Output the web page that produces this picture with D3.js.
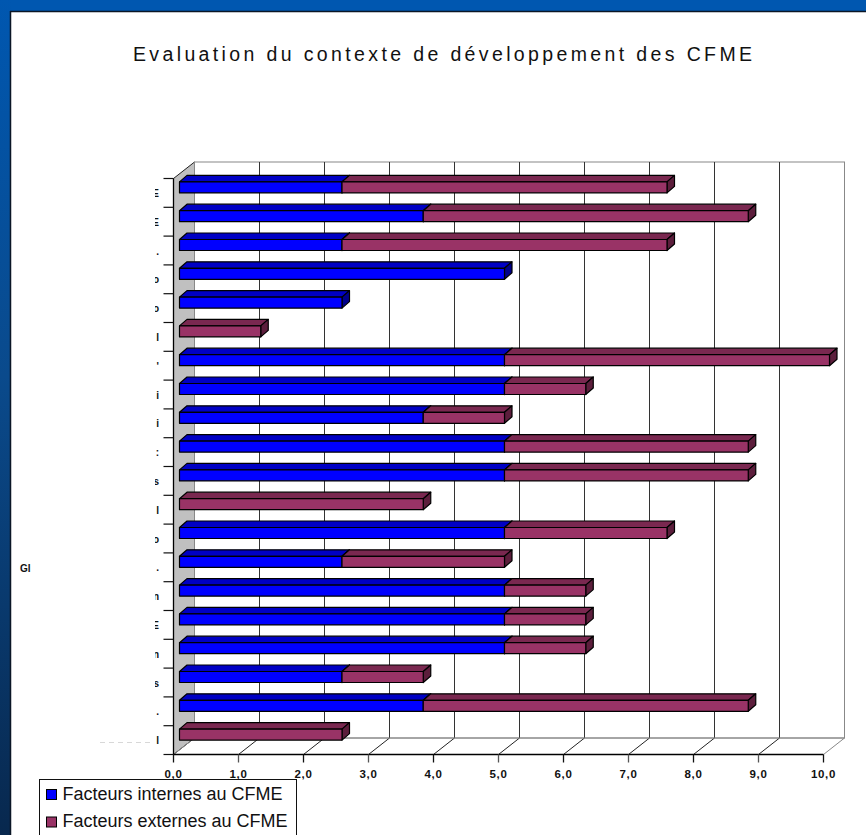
<!DOCTYPE html>
<html>
<head>
<meta charset="utf-8">
<script src="https://cdn.jsdelivr.net/npm/d3@7/dist/d3.min.js"></script>
<style>
  html, body { margin: 0; padding: 0; background: #0055aa; }
  svg { display: block; }
</style>
</head>
<body>
<svg id="chart" width="866" height="835"></svg>
<script>
// ---- Data ----
const categories = ["E","E",".","o","o","l","'","i","i",":","s","l","o",".","n","E","n","s",".","l"];
const internes = [2.5, 3.75, 2.5, 5.0, 2.5, 0, 5.0, 5.0, 3.75, 5.0, 5.0, 0, 5.0, 2.5, 5.0, 5.0, 5.0, 2.5, 3.75, 0];
const externes = [5.0, 5.0, 5.0, 0, 0, 1.25, 5.0, 1.25, 1.25, 3.75, 3.75, 3.75, 2.5, 2.5, 1.25, 1.25, 1.25, 1.25, 5.0, 2.5];
const seriesNames = ["Facteurs internes au CFME", "Facteurs externes au CFME"];
const xTicks = [0,1,2,3,4,5,6,7,8,9,10];
const titleText = "Evaluation du contexte de développement des CFME";

// ---- Layout ----
const svg = d3.select("#chart");
const W = 866, H = 835;

// background
const defs = svg.append("defs");
const lg = defs.append("linearGradient").attr("id","bgl").attr("x1",0).attr("y1",0).attr("x2",0).attr("y2",1);
lg.append("stop").attr("offset","0%").attr("stop-color","#0057b0");
lg.append("stop").attr("offset","45%").attr("stop-color","#0a4a8c");
lg.append("stop").attr("offset","100%").attr("stop-color","#08284e");
defs.append("clipPath").attr("id","lblclip").append("rect")
  .attr("x",155).attr("y",150).attr("width",12).attr("height",620);
svg.append("rect").attr("width",W).attr("height",H).attr("fill","#0057b0");
svg.append("rect").attr("x",0).attr("y",0).attr("width",11).attr("height",H).attr("fill","url(#bgl)");
// panel
svg.append("rect").attr("x",10).attr("y",11).attr("width",W-10).attr("height",H-11).attr("fill","#ffffff");
svg.append("line").attr("x1",10).attr("x2",W).attr("y1",11.5).attr("y2",11.5).attr("stroke","#0b1626").attr("stroke-width",1.5);
svg.append("line").attr("x1",10.5).attr("x2",10.5).attr("y1",11).attr("y2",H).attr("stroke","#0b1626").attr("stroke-width",1.5);

// title
svg.append("text").attr("x",133).attr("y",61)
  .attr("font-family","Liberation Sans, Arial, sans-serif").attr("font-size",19.5)
  .attr("fill","#111").attr("textLength",619).attr("lengthAdjust","spacing")
  .text(titleText);

const X0 = 173.5, X1 = 823.5, Y0 = 178.5, Y1 = 754.5;
const DX = 21, DY = -16.5;
const x = d3.scaleLinear().domain([0,10]).range([X0, X1]);
const y = d3.scaleBand().domain(d3.range(categories.length)).range([Y0, Y1]).padding(0);

const g = svg.append("g");

// left wall
g.append("path")
  .attr("d", `M${X0},${Y0} L${X0+DX},${Y0+DY} L${X0+DX},${Y1+DY} L${X0},${Y1} Z`)
  .attr("fill","#c0c0c0").attr("stroke","#222").attr("stroke-width",1);
// back wall
g.append("rect").attr("x",X0+DX).attr("y",Y0+DY).attr("width",X1-X0).attr("height",Y1-Y0)
  .attr("fill","#ffffff").attr("stroke","#888").attr("stroke-width",1);
// gridlines on back wall
g.selectAll("line.grid").data(xTicks.slice(1)).enter().append("line")
  .attr("x1",d=>x(d)+DX).attr("x2",d=>x(d)+DX)
  .attr("y1",Y0+DY).attr("y2",Y1+DY)
  .attr("stroke",d=>d===10?"#888":"#333").attr("stroke-width",1);
// floor lines
g.selectAll("line.floor").data(xTicks.slice(1)).enter().append("line")
  .attr("x1",d=>x(d)).attr("x2",d=>x(d)+DX)
  .attr("y1",Y1).attr("y2",Y1+DY)
  .attr("stroke",d=>d===10?"#888":"#222").attr("stroke-width",1);
g.append("line").attr("x1",X0+DX).attr("x2",X1+DX).attr("y1",Y1+DY).attr("y2",Y1+DY).attr("stroke","#888");
g.append("line").attr("x1",X0).attr("x2",X0+DX).attr("y1",Y1).attr("y2",Y1+DY).attr("stroke","#888");

// bars
const BX = 6, BY = -5.5, BT = 11, BDX = 7.5, BDY = -6.5;
const colors = [
  {front:"#0000ff", top:"#0000c4", side:"#00008a"},
  {front:"#993366", top:"#7a2850", side:"#5c1e3c"}
];
const bars = [];
categories.forEach((c,i)=>{
  let start = 0;
  [internes[i], externes[i]].forEach((v,s)=>{
    if (v > 0) bars.push({i, s, a:start, b:start+v});
    start += v;
  });
});
const cy = i => y(i) + y.bandwidth()/2;
const bg = g.append("g");
bars.forEach(d=>{
  const xa = x(d.a)+BX, xb = x(d.b)+BX;
  const yt = cy(d.i) + BY - BT/2, yb = yt + BT;
  const col = colors[d.s];
  const grp = bg.append("g").attr("stroke","#000").attr("stroke-width",1.2).attr("stroke-linejoin","round");
  grp.append("path").attr("d",`M${xa},${yt} L${xa+BDX},${yt+BDY} L${xb+BDX},${yt+BDY} L${xb},${yt} Z`).attr("fill",col.top);
  grp.append("path").attr("d",`M${xb},${yt} L${xb+BDX},${yt+BDY} L${xb+BDX},${yb+BDY} L${xb},${yb} Z`).attr("fill",col.side);
  grp.append("rect").attr("x",xa).attr("y",yt).attr("width",xb-xa).attr("height",BT).attr("fill",col.front);
});

// axes
const axG = svg.append("g");
axG.append("line").attr("x1",X0).attr("x2",X0).attr("y1",Y0).attr("y2",Y1).attr("stroke","#000").attr("stroke-width",1.3);
axG.append("line").attr("x1",X0).attr("x2",X1).attr("y1",Y1).attr("y2",Y1).attr("stroke","#000").attr("stroke-width",1.3);
const bounds = d3.range(categories.length+1).map(k=>Y0 + k*y.step());
axG.selectAll("line.ytick").data(bounds).enter().append("line")
  .attr("x1",X0-10).attr("x2",X0).attr("y1",d=>d).attr("y2",d=>d).attr("stroke","#111").attr("stroke-width",1.2);
axG.selectAll("line.xtick").data(xTicks).enter().append("line")
  .attr("x1",d=>x(d)).attr("x2",d=>x(d)).attr("y1",Y1).attr("y2",Y1+8).attr("stroke",(d,i)=>i%2?"#555":"#111").attr("stroke-width",1.3);
const fmt = d3.format(".1f");
axG.selectAll("text.xl").data(xTicks).enter().append("text")
  .attr("x",d=>x(d)).attr("y",Y1+23).attr("text-anchor","middle")
  .attr("font-family","Liberation Sans, Arial, sans-serif").attr("font-size",11.5).attr("font-weight","bold")
  .attr("letter-spacing",0.6)
  .attr("fill","#111").text(d=>fmt(d).replace(".",","));
axG.append("g").attr("clip-path","url(#lblclip)")
  .selectAll("text.yl").data(categories).enter().append("text")
  .attr("x",159).attr("y",(d,i)=>cy(i)+4).attr("text-anchor","end")
  .attr("font-family","Liberation Sans, Arial, sans-serif").attr("font-size",10).attr("font-weight","bold")
  .attr("fill","#111").text(d=>d);
// axis title remnant
svg.append("text").attr("x",20).attr("y",572)
  .attr("font-family","Liberation Sans, Arial, sans-serif").attr("font-size",10).attr("font-weight","bold")
  .attr("fill","#111").text("Gl");
svg.append("line").attr("x1",100).attr("x2",153).attr("y1",742.5).attr("y2",742.5)
  .attr("stroke","#d8d8d8").attr("stroke-dasharray","5,4");

// legend
const leg = svg.append("g");
leg.append("rect").attr("x",39.5).attr("y",779.5).attr("width",257).attr("height",70)
  .attr("fill","#fff").attr("stroke","#111").attr("stroke-width",1);
seriesNames.forEach((n,k)=>{
  const yy = 789.5 + k*27.5;
  leg.append("rect").attr("x",46.5).attr("y",yy).attr("width",10).attr("height",10)
    .attr("fill",colors[k].front).attr("stroke","#000").attr("stroke-width",1);
  leg.append("text").attr("x",62.5).attr("y",yy+10)
    .attr("font-family","Liberation Sans, Arial, sans-serif").attr("font-size",18)
    .attr("fill","#111").text(n);
});
</script>
</body>
</html>
